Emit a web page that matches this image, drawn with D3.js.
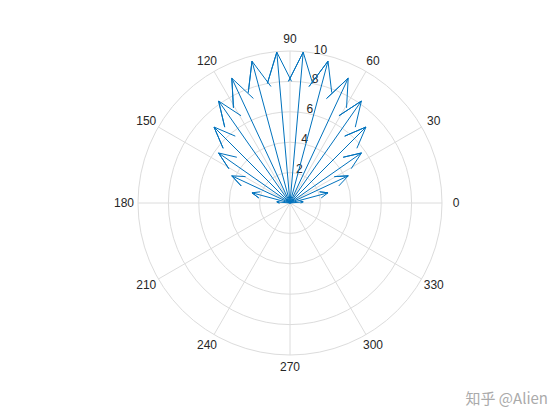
<!DOCTYPE html>
<html><head><meta charset="utf-8">
<script src="https://cdn.jsdelivr.net/npm/d3@7"></script>
<style>body{margin:0;background:#fff}</style>
</head><body><div id="chart"></div>
<script>
// compass data: angles (deg) and magnitudes
const angles = [5, 15, 25, 35, 45, 55, 65, 75, 85, 95, 105, 115, 125, 135, 145, 155, 165, 175];
const mags = [0.87, 2.59, 4.23, 5.74, 7.07, 8.19, 9.06, 9.66, 9.96, 9.96, 9.66, 9.06, 8.19, 7.07, 5.74, 4.23, 2.59, 0.87];
const ringTicks = [2, 4, 6, 8, 10];
const angleTicks = [0, 30, 60, 90, 120, 150, 180, 210, 240, 270, 300, 330];

const width = 560, height = 420;
const cx = 290, cy = 203, R = 152;

const svg = d3.select("#chart").append("svg")
    .attr("width", width).attr("height", height)
    .style("font-family", "Arial, 'Liberation Sans', sans-serif");

const r = d3.scaleLinear().domain([0, 10]).range([0, R]);
const pt = (deg, v) => [cx + r(v) * Math.cos(deg * Math.PI / 180), cy - r(v) * Math.sin(deg * Math.PI / 180)];

const grid = svg.append("g").attr("stroke", "#dcdcdc").attr("fill", "none");
grid.selectAll("circle").data(ringTicks).join("circle")
    .attr("cx", cx).attr("cy", cy).attr("r", d => r(d));
grid.selectAll("line").data(angleTicks).join("line")
    .attr("x1", cx).attr("y1", cy)
    .attr("x2", d => pt(d, 10)[0]).attr("y2", d => pt(d, 10)[1]);

svg.append("g").selectAll("text").data(angleTicks).join("text")
    .attr("x", d => cx + (R + 14) * Math.cos(d * Math.PI / 180))
    .attr("y", d => cy - (R + 12) * Math.sin(d * Math.PI / 180))
    .attr("text-anchor", "middle").attr("dy", "0.35em")
    .attr("font-size", 12).attr("fill", "#262626")
    .text(d => d);

svg.append("g").selectAll("text").data(ringTicks).join("text")
    .attr("x", d => pt(80, d)[0] + 4)
    .attr("y", d => pt(80, d)[1] - 4)
    .attr("text-anchor", "middle").attr("dy", "0.35em")
    .attr("font-size", 12).attr("fill", "#262626")
    .text(d => d);

// arrows like MATLAB compass: shaft + head at 0.8 length, half-width 0.08
const arrows = svg.append("g").attr("stroke", "#0072BD").attr("fill", "none").attr("stroke-width", 1);
angles.forEach((a, i) => {
    const m = mags[i], t = a * Math.PI / 180;
    const c = Math.cos(t), s = Math.sin(t);
    const P = (u, w) => [cx + r(m) * (u * c - w * s), cy - r(m) * (u * s + w * c)];
    const pts = [P(0, 0), P(1, 0), P(0.8, 0.08), P(1, 0), P(0.8, -0.08)];
    arrows.append("path").attr("d", d3.line()(pts));
});

svg.append("text").attr("x", 548).attr("y", 404).attr("text-anchor", "end")
    .attr("font-size", 15).attr("fill", "#aaa")
    .style("font-family", "'Noto Sans CJK SC', sans-serif")
    .text("知乎 @Alien");
</script></body></html>
